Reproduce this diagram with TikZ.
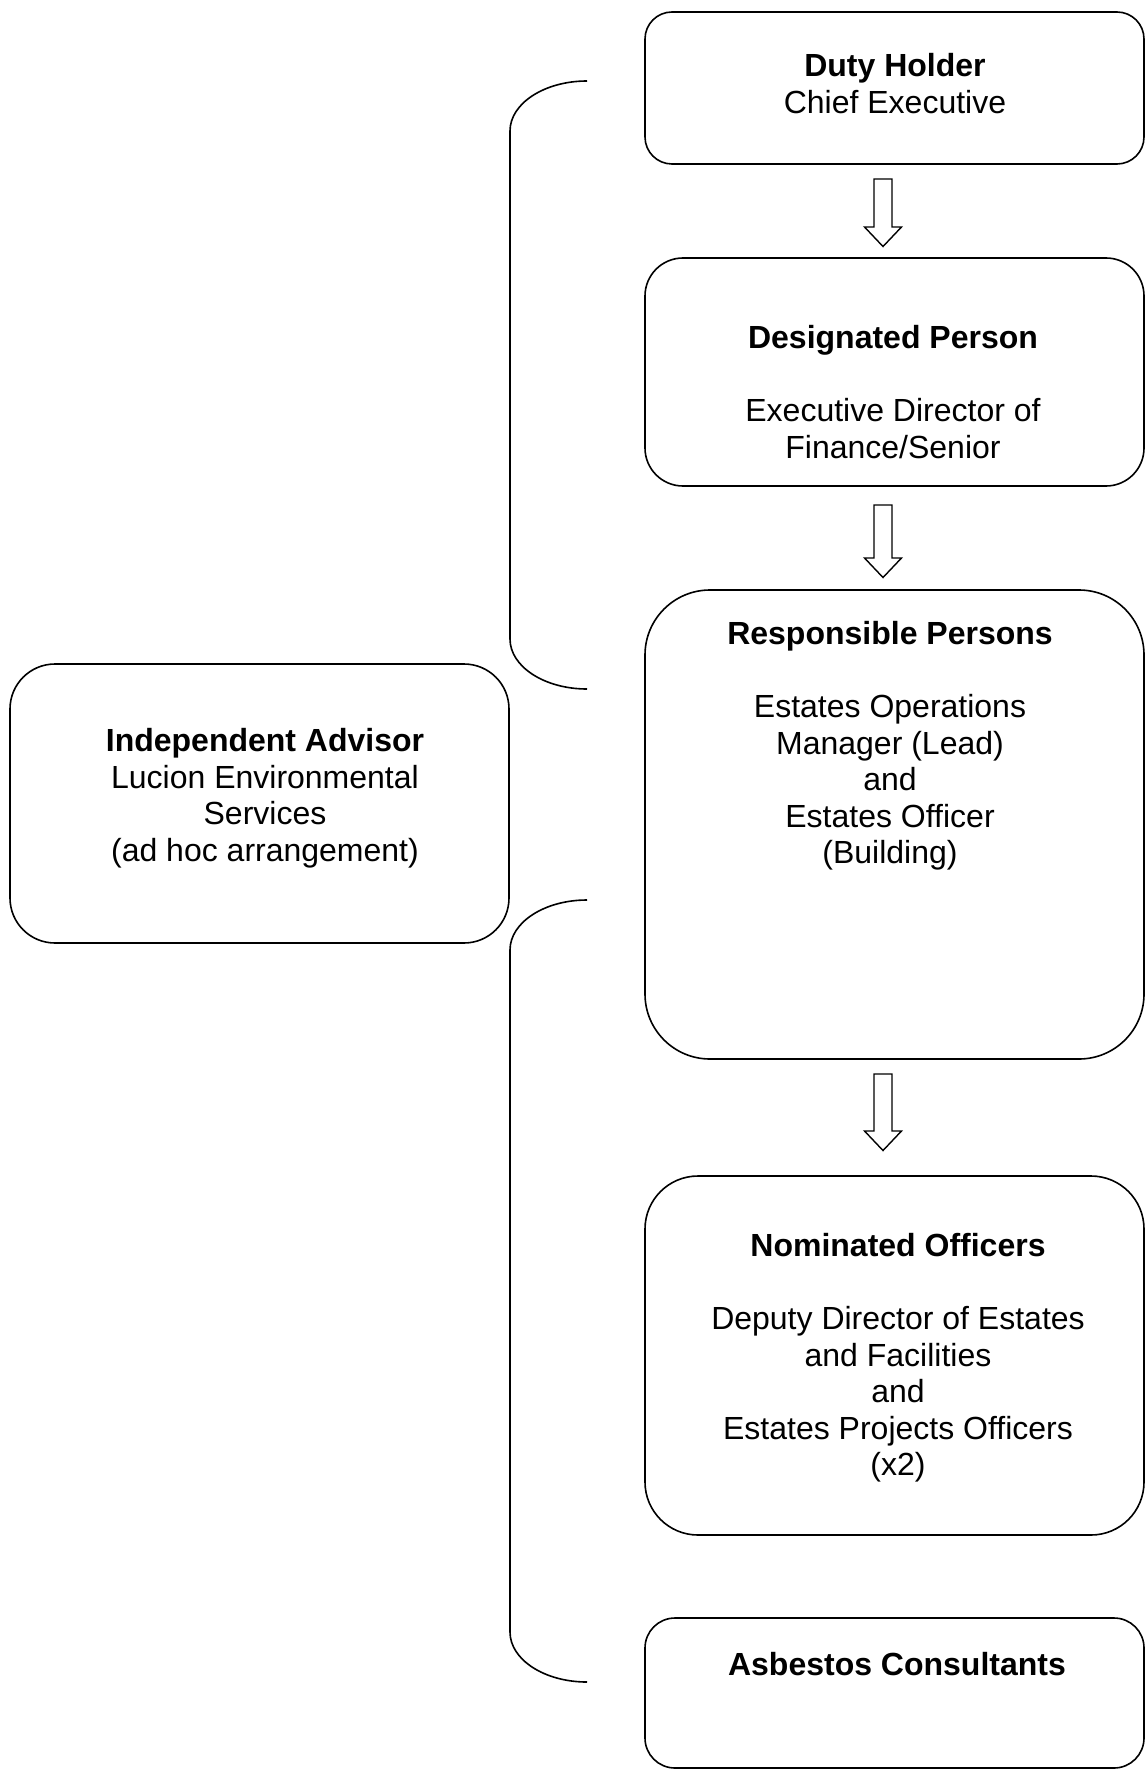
\documentclass[tikz,border=0pt]{standalone}
\usepackage{fontspec}
\setmainfont{Liberation Sans}
\begin{document}
\begin{tikzpicture}[x=0.5pt,y=-0.5pt,
  box/.style={draw, line width=0.8pt, inner sep=0pt},
  txt/.style={font=\fontsize{16}{18.25}\selectfont, align=center, inner sep=0pt, anchor=north},
  blockarrow/.style={draw, line width=0.7pt, fill=white, line join=miter},
  brace/.style={draw, line width=0.8pt},
  pics/downarrow/.style={code={
    \draw[blockarrow] (-9,0) -- (-9,#1) -- (-18.5,#1) -- (0,#1+19.5) -- (18.5,#1) -- (9,#1) -- (9,0) -- cycle;}}
]
\useasboundingbox (0,0) rectangle (1146,1771);

% boxes
\node[box, rounded corners=13.5pt, minimum width=249.5pt, minimum height=76pt] (dh) at (894.5,88) {};
\node[box, rounded corners=19pt, minimum width=249.5pt, minimum height=114pt] (dp) at (894.5,372) {};
\node[box, rounded corners=32.5pt, minimum width=249.5pt, minimum height=234.5pt] (rp) at (894.5,824.5) {};
\node[box, rounded corners=26.5pt, minimum width=249.5pt, minimum height=179.5pt] (no) at (894.5,1355.5) {};
\node[box, rounded corners=15pt, minimum width=249.5pt, minimum height=75pt] (ac) at (894.5,1693) {};
\node[box, rounded corners=22.5pt, minimum width=249.5pt, minimum height=139.5pt] (ia) at (259.5,803.5) {};

% texts
\node[txt] (dht) at (895,53) {\textbf{Duty Holder}\\Chief Executive};
\node[txt] (dpt) at (893,325) {\textbf{Designated Person}\\[18.25pt]Executive Director of\\Finance/Senior};
\node[txt] (rpt) at (890,621) {\textbf{Responsible Persons}\\[18.25pt]Estates Operations\\Manager (Lead)\\and\\Estates Officer\\(Building)};
\node[txt] (not) at (898,1233) {\textbf{Nominated Officers}\\[18.25pt]Deputy Director of Estates\\and Facilities\\and\\Estates Projects Officers\\(x2)};
\node[txt] (act) at (897,1652) {\textbf{Asbestos Consultants}};
\node[txt] (iat) at (265,728) {\textbf{Independent Advisor}\\Lucion Environmental\\Services\\(ad hoc arrangement)};

% block arrows
\pic at (883,179) {downarrow=48};
\pic at (883,505) {downarrow=53};
\pic at (883,1074) {downarrow=57};

% brackets
\coordinate (b1t) at (587,81);
\coordinate (b1b) at (587,689);
\coordinate (b2t) at (587,900);
\coordinate (b2b) at (587,1682);
\draw[brace] (b1t) .. controls (544.5,81) and (510,103.4) .. (510,131) -- (510,639) .. controls (510,666.6) and (544.5,689) .. (b1b);
\draw[brace] (b2t) .. controls (544.5,900) and (510,922.4) .. (510,950) -- (510,1632) .. controls (510,1659.6) and (544.5,1682) .. (b2b);
\end{tikzpicture}
\end{document}
